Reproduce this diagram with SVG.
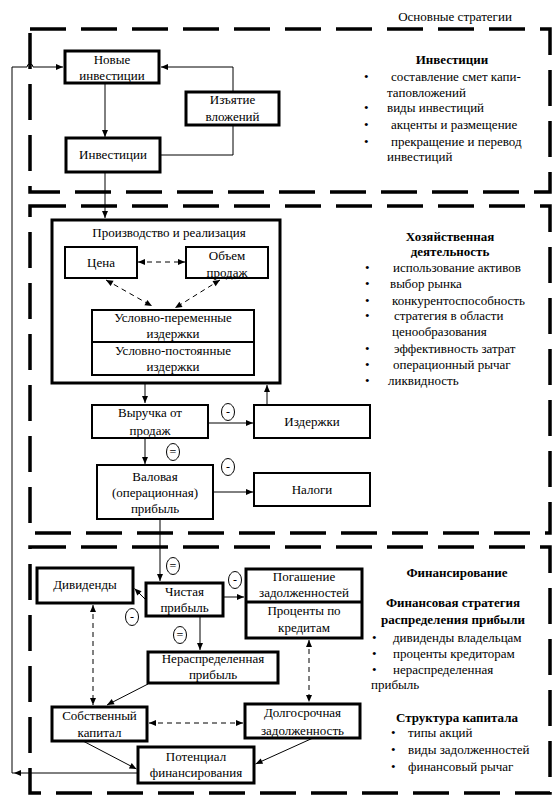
<svg xmlns="http://www.w3.org/2000/svg" width="558" height="803" viewBox="0 0 558 803" font-family="'Liberation Serif', 'Times New Roman', serif" font-size="13">
<style>
text{font-family:"Liberation Serif","Times New Roman",serif}
.f{fill:none;stroke:#000;stroke-width:3.5;stroke-dasharray:36 15}
.b3{fill:#fff;stroke:#000;stroke-width:3}
.b2{fill:#fff;stroke:#000;stroke-width:2}
.c{fill:none;stroke:#000;stroke-width:1}
.d{stroke-dasharray:5 4}
.ah{fill:#000;stroke:none}
.e{fill:#fff;stroke:#000;stroke-width:1}
.m{text-anchor:middle}
.h{font-weight:bold}
.s{font-size:12px}
</style>
<rect width="558" height="803" fill="#fff"/>
<text x="455" y="21" class="m">Основные стратегии</text>
<g id="frames">
<rect class="f" x="30" y="29" width="520" height="163"/>
<rect class="f" x="30" y="206" width="520" height="327"/>
<rect class="f" x="30" y="547" width="520" height="246"/>
</g>
<g id="n-novye"><rect class="b3" x="65" y="51" width="94" height="32"/><text x="112" y="64" class="m">Новые</text><text x="112" y="80" class="m">инвестиции</text></g>
<g id="n-iziatie"><rect class="b3" x="186" y="92" width="93" height="33"/><text x="232.5" y="104" class="m">Изъятие</text><text x="232.5" y="121" class="m">вложений</text></g>
<g id="n-invest"><rect class="b3" x="66" y="138" width="94" height="34"/><text x="113" y="159" class="m">Инвестиции</text></g>
<g id="n-proizv"><rect class="b3" x="52" y="220" width="228" height="163"/><text x="169" y="237" class="m">Производство и реализация</text></g>
<g id="n-cena"><rect class="b2" x="65" y="247" width="72" height="31"/><text x="101" y="267" class="m">Цена</text></g>
<g id="n-obem"><rect class="b2" x="186" y="247" width="82" height="31"/><text x="227" y="260" class="m">Объем</text><text x="227" y="277" class="m">продаж</text></g>
<g id="n-uper"><rect class="b2" x="92" y="310" width="162" height="32"/><text x="173" y="322" class="m">Условно-переменные</text><text x="173" y="338" class="m">издержки</text></g>
<g id="n-upost"><rect class="b2" x="92" y="342" width="162" height="33"/><text x="173" y="355" class="m">Условно-постоянные</text><text x="173" y="371" class="m">издержки</text></g>
<g id="n-vyruchka"><rect class="b2" x="92" y="405" width="116" height="33"/><text x="150" y="417" class="m">Выручка от</text><text x="150" y="435" class="m">продаж</text></g>
<g id="n-izderzhki"><rect class="b2" x="254" y="405" width="116" height="33"/><text x="312" y="426" class="m">Издержки</text></g>
<g id="n-valovaya"><rect class="b2" x="97" y="465" width="116" height="54"/><text x="155" y="481" class="m">Валовая</text><text x="155" y="497" class="m">(операционная)</text><text x="155" y="513" class="m">прибыль</text></g>
<g id="n-nalogi"><rect class="b2" x="254" y="473" width="116" height="33"/><text x="312" y="494" class="m">Налоги</text></g>
<g id="n-dividendy"><rect class="b3" x="37" y="568" width="96" height="35"/><text x="85" y="589" class="m">Дивиденды</text></g>
<g id="n-chistaya"><rect class="b3" x="146" y="583" width="77" height="33"/><text x="184.5" y="596" class="m">Чистая</text><text x="184.5" y="612" class="m">прибыль</text></g>
<g id="n-pogashenie"><rect class="b3" x="246" y="569" width="116" height="69"/><path d="M246,602 H362" stroke="#000" stroke-width="3"/><text x="304" y="581" class="m">Погашение</text><text x="304" y="597" class="m">задолженностей</text><text x="304" y="615" class="m">Проценты по</text><text x="304" y="632" class="m">кредитам</text></g>
<g id="n-neraspr"><rect class="b3" x="148" y="652" width="130" height="31"/><text x="213" y="663" class="m">Нераспределенная</text><text x="213" y="679" class="m">прибыль</text></g>
<g id="n-sobstv"><rect class="b3" x="52" y="707" width="95" height="34"/><text x="99.5" y="720" class="m">Собственный</text><text x="99.5" y="737" class="m">капитал</text></g>
<g id="n-dolgosr"><rect class="b3" x="245" y="704" width="115" height="34"/><text x="302.5" y="717" class="m">Долгосрочная</text><text x="302.5" y="735" class="m">задолженность</text></g>
<g id="n-potencial"><rect class="b3" x="138" y="747" width="116" height="36"/><text x="196" y="761" class="m">Потенциал</text><text x="196" y="777" class="m">финансирования</text></g>
<g id="connectors">
<path class="c" d="M105,83 V137"/><polygon class="ah" points="105,137 102,130 108,130"/>
<path class="c" d="M233,92 V67 H161"/><polygon class="ah" points="161,67 168,64 168,70"/>
<path class="c" d="M160,155 H233 V125"/>
<path class="c" d="M138,773 H12 V67 H27 a3,3 0 0 1 6,0 H63"/><polygon class="ah" points="14,773 21,770 21,776"/><polygon class="ah" points="63,67 56,64 56,70"/>
<path class="c" d="M105,172 V218"/><polygon class="ah" points="105,218 102,211 108,211"/>
<path class="c d" d="M138,262 H185"/><polygon class="ah" points="138,262 145,259 145,265"/><polygon class="ah" points="185,262 178,259 178,265"/>
<path class="c d" d="M106,280 L152,306"/><polygon class="ah" points="106,280 110.6,286 113.6,280.8"/><polygon class="ah" points="152,306 144.4,305.2 147.4,300"/>
<path class="c d" d="M220,280 L175,308"/><polygon class="ah" points="220,280 212.5,281.1 215.6,286.2"/><polygon class="ah" points="175,308 179.4,301.7 182.5,306.9"/>
<path class="c" d="M145,384 V403"/><polygon class="ah" points="145,403 142,396 148,396"/>
<path class="c" d="M267,404 V385"/><polygon class="ah" points="267,385 264,392 270,392"/>
<path class="c" d="M208,423 H253"/><polygon class="ah" points="253,423 246,420 246,426"/>
<path class="c" d="M145,438 V464"/><polygon class="ah" points="145,464 142,457 148,457"/>
<path class="c" d="M213,492 H253"/><polygon class="ah" points="253,492 246,489 246,495"/>
<path class="c" d="M160,519 V581"/><polygon class="ah" points="160,581 157,574 163,574"/>
<path class="c" d="M146,600 L134.5,588.5"/><polygon class="ah" points="134.5,588.5 141.6,591.3 137.3,595.6"/>
<path class="c" d="M223,597 H244"/><polygon class="ah" points="244,597 237,594 237,600"/>
<path class="c" d="M200,616 V650"/><polygon class="ah" points="200,650 197,643 203,643"/>
<path class="c d" d="M93,605 V705"/><polygon class="ah" points="93,605 90,612 96,612"/><polygon class="ah" points="93,705 90,698 96,698"/>
<path class="c d" d="M309,640 V702"/><polygon class="ah" points="309,640 306,647 312,647"/><polygon class="ah" points="309,702 306,695 312,695"/>
<path class="c" d="M148,684 L107,705"/><polygon class="ah" points="107,705 111.7,699 114.6,704.3"/>
<path class="c d" d="M149,723 H243"/><polygon class="ah" points="149,723 156,720 156,726"/><polygon class="ah" points="243,723 236,720 236,726"/>
<path class="c" d="M83,741 L136.5,769"/><polygon class="ah" points="136.5,769 128.9,768.4 131.7,763.1"/>
<path class="c" d="M313,738 L255.5,764"/><polygon class="ah" points="255.5,764 260.7,758.4 263.1,763.8"/>
</g>
<g id="signs">
<ellipse class="e" cx="228" cy="412" rx="6.5" ry="8.5"/><text x="228" y="416" class="m s">-</text>
<ellipse class="e" cx="173" cy="452" rx="6.5" ry="8.5"/><text x="173" y="456" class="m s">=</text>
<ellipse class="e" cx="228" cy="467" rx="6.5" ry="8.5"/><text x="228" y="471" class="m s">-</text>
<ellipse class="e" cx="173" cy="566" rx="6.5" ry="8.5"/><text x="173" y="570" class="m s">=</text>
<ellipse class="e" cx="235" cy="580" rx="6.5" ry="8.5"/><text x="235" y="584" class="m s">-</text>
<ellipse class="e" cx="132" cy="617" rx="6.5" ry="8.5"/><text x="132" y="621" class="m s">-</text>
<ellipse class="e" cx="180" cy="635" rx="6.5" ry="8.5"/><text x="180" y="639" class="m s">=</text>
</g>
<g id="t-invest">
<text x="452" y="64" class="m h">Инвестиции</text>
<text x="364" y="81">•</text><text x="391" y="81">составление смет капи-</text>
<text x="387" y="97">таповложений</text>
<text x="364" y="112">•</text><text x="387" y="112">виды инвестиций</text>
<text x="364" y="129">•</text><text x="391" y="129">акценты и размещение</text>
<text x="364" y="146">•</text><text x="391" y="146">прекращение и перевод</text>
<text x="387" y="161">инвестиций</text>
</g>
<g id="t-hoz">
<text x="450" y="241" class="m h">Хозяйственная</text>
<text x="450" y="256" class="m h">деятельность</text>
<text x="365" y="272">•</text><text x="393" y="272">использование активов</text>
<text x="365" y="288">•</text><text x="390" y="288">выбор рынка</text>
<text x="365" y="305">•</text><text x="392" y="305">конкурентоспособность</text>
<text x="365" y="320">•</text><text x="394" y="320">стратегия в области</text>
<text x="392" y="336">ценообразования</text>
<text x="365" y="353">•</text><text x="394" y="353">эффективность затрат</text>
<text x="365" y="369">•</text><text x="393" y="369">операционный рычаг</text>
<text x="365" y="385">•</text><text x="388" y="385">ликвидность</text>
</g>
<g id="t-fin">
<text x="457" y="577" class="m h">Финансирование</text>
<text x="453" y="607" class="m h">Финансовая стратегия</text>
<text x="453" y="624" class="m h">распределения прибыли</text>
<text x="372" y="642">•</text><text x="393" y="642">дивиденды владельцам</text>
<text x="372" y="658">•</text><text x="393" y="658">проценты кредиторам</text>
<text x="372" y="674">•</text><text x="393" y="674">нераспределенная</text>
<text x="371" y="689">прибыль</text>
<text x="457" y="722" class="m h">Структура капитала</text>
<text x="391" y="737">•</text><text x="408" y="737">типы акций</text>
<text x="391" y="754">•</text><text x="408" y="754">виды задолженностей</text>
<text x="391" y="771">•</text><text x="408" y="771">финансовый рычаг</text>
</g>
</svg>
